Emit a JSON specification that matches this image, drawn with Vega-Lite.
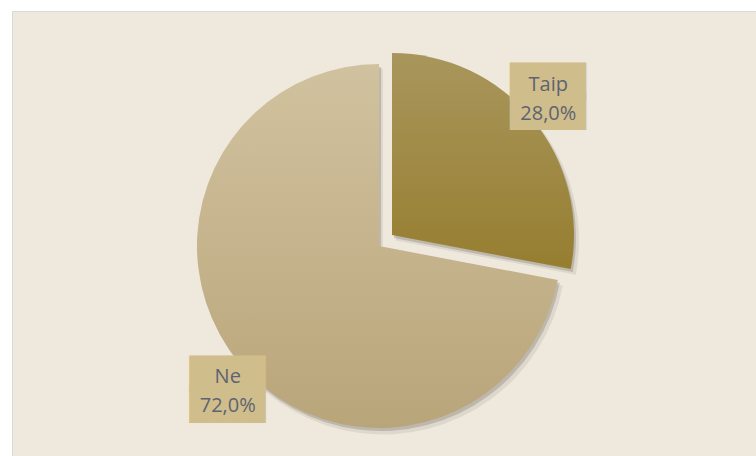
{
  "$schema": "https://vega.github.io/schema/vega-lite/v6.json",
  "autosize": "none",
  "width": 744,
  "height": 445,
  "padding": {"left": 12, "top": 11, "right": 0, "bottom": 0},
  "background": "#ffffff",
  "view": {"fill": "#efe8dc", "stroke": "#d9d9d9", "strokeWidth": 1},
  "data": {"values": [
    {"answer": "Taip", "share": 28, "label": "28,0%"},
    {"answer": "Ne", "share": 72, "label": "72,0%"}
  ]},
  "transform": [
    {"window": [{"op": "sum", "field": "share", "as": "end"}], "frame": [null, 0]},
    {"calculate": "datum.end - datum.share", "as": "start"},
    {"calculate": "(datum.start + datum.end) / 2", "as": "mid"},
    {"calculate": "[datum.answer, datum.label]", "as": "lines"}
  ],
  "encoding": {
    "theta": {"field": "start", "type": "quantitative", "scale": {"domain": [0, 100], "range": [0, 6.283185307]}},
    "theta2": {"field": "end"}
  },
  "layer": [
    {"transform": [{"filter": "datum.answer == 'Ne'"}],
     "mark": {"type": "arc", "radius": 183, "fill": "#000000", "opacity": 0.07, "xOffset": -1, "yOffset": 18}},
    {"transform": [{"filter": "datum.answer == 'Ne'"}],
     "mark": {"type": "arc", "radius": 182, "fill": "#000000", "opacity": 0.15, "xOffset": -3, "yOffset": 15.5}},
    {"transform": [{"filter": "datum.answer == 'Taip'"}],
     "mark": {"type": "arc", "radius": 183, "fill": "#000000", "opacity": 0.07, "xOffset": 12, "yOffset": 7}},
    {"transform": [{"filter": "datum.answer == 'Taip'"}],
     "mark": {"type": "arc", "radius": 182, "fill": "#000000", "opacity": 0.15, "xOffset": 10, "yOffset": 4.5}},
    {"transform": [{"filter": "datum.answer == 'Ne'"}],
     "mark": {"type": "arc", "radius": 182, "xOffset": -5, "yOffset": 12.5,
       "fill": {"gradient": "linear", "x1": 0, "y1": 0, "x2": 0, "y2": 1,
         "stops": [{"offset": 0, "color": "#d1c29f"}, {"offset": 1, "color": "#b9a57a"}]}}},
    {"transform": [{"filter": "datum.answer == 'Taip'"}],
     "mark": {"type": "arc", "radius": 182, "xOffset": 8, "yOffset": 1.5,
       "fill": {"gradient": "linear", "x1": 0, "y1": 0, "x2": 0, "y2": 1,
         "stops": [{"offset": 0, "color": "#a9965c"}, {"offset": 1, "color": "#967e30"}]}}},
    {"transform": [{"filter": "datum.answer == 'Taip'"}],
     "mark": {"type": "text", "font": "DejaVu Sans Mono", "fontSize": 31.56, "lineHeight": 30.3, "color": "#cfbe8c", "align": "center", "baseline": "middle", "xOffset": 4, "yOffset": -18},
     "encoding": {"theta": {"field": "mid", "type": "quantitative"}, "theta2": null, "radius": {"value": 208}, "text": {"value": ["████", "████"]}}},
    {"transform": [{"filter": "datum.answer == 'Ne'"}],
     "mark": {"type": "text", "font": "DejaVu Sans Mono", "fontSize": 31.56, "lineHeight": 30.3, "color": "#cfbe8c", "align": "center", "baseline": "middle", "xOffset": 4, "yOffset": 10},
     "encoding": {"theta": {"field": "mid", "type": "quantitative"}, "theta2": null, "radius": {"value": 208}, "text": {"value": ["████", "████"]}}},
    {"transform": [{"filter": "datum.answer == 'Taip'"}],
     "mark": {"type": "text", "font": "Open Sans", "fontSize": 20, "lineHeight": 29, "color": "#5e6370", "align": "center", "baseline": "middle", "xOffset": 4, "yOffset": -15.5},
     "encoding": {"theta": {"field": "mid", "type": "quantitative"}, "theta2": null, "radius": {"value": 208}, "text": {"field": "lines"}}},
    {"transform": [{"filter": "datum.answer == 'Ne'"}],
     "mark": {"type": "text", "font": "Open Sans", "fontSize": 20, "lineHeight": 29, "color": "#5e6370", "align": "center", "baseline": "middle", "xOffset": 4, "yOffset": 11},
     "encoding": {"theta": {"field": "mid", "type": "quantitative"}, "theta2": null, "radius": {"value": 208}, "text": {"field": "lines"}}}
  ]
}
